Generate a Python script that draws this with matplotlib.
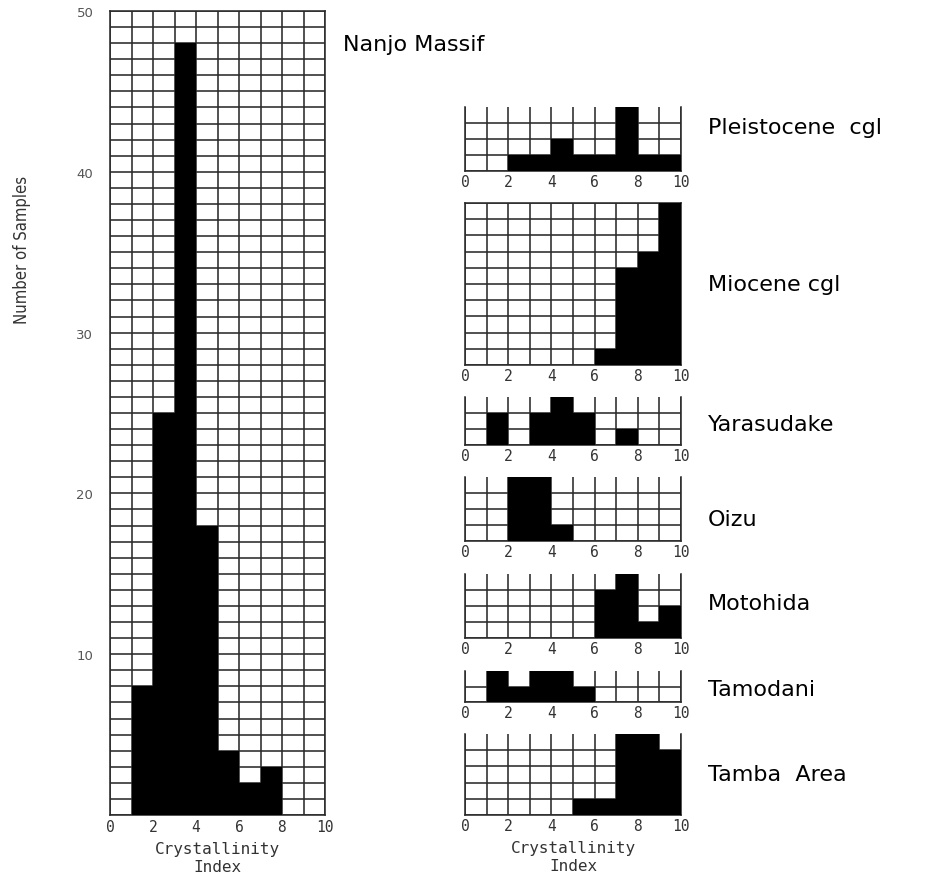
import matplotlib
matplotlib.use("Agg")
import matplotlib.pyplot as plt

# ---- data ----
bins = list(range(10))
main_counts = [0, 8, 25, 48, 18, 4, 2, 3, 0, 0]
main_title = "Nanjo Massif"

panel_names = ["Pleistocene  cgl", "Miocene cgl", "Yarasudake", "Oizu",
               "Motohida", "Tamodani", "Tamba  Area"]
pleistocene = [0, 0, 1, 1, 2, 1, 1, 4, 1, 1]
miocene = [0, 0, 0, 0, 0, 0, 1, 6, 7, 10]
yarasudake = [0, 2, 0, 2, 3, 2, 0, 1, 0, 0]
oizu = [0, 0, 4, 4, 1, 0, 0, 0, 0, 0]
motohida = [0, 0, 0, 0, 0, 0, 3, 4, 1, 2]
tamodani = [0, 2, 1, 2, 2, 1, 0, 0, 0, 0]
tamba = [0, 0, 0, 0, 0, 1, 1, 5, 5, 4]
panel_ymax = [4, 10, 3, 4, 4, 2, 5]

x_ticks = [0, 2, 4, 6, 8, 10]
y_ticks_main = [10, 20, 30, 40, 50]
x_label = "Crystallinity\nIndex"
y_label = "Number of Samples"

# ---- layout (pixels) ----
W, H = 943, 878
fig = plt.figure(figsize=(W / 100, H / 100), dpi=100)
fig.patch.set_facecolor("white")

GRID = "#2a2a2a"
LW = 1.15
DIGIT_FONT = ["DejaVu Sans Mono"]


def add_px_axes(x0, x1, y0, y1):
    return fig.add_axes([x0 / W, 1 - y1 / H, (x1 - x0) / W, (y1 - y0) / H])


def style_grid(ax, ymax, top_line):
    ax.set_xlim(0, 10)
    ax.set_ylim(0, ymax)
    ax.set_xticks(range(0, 11), minor=True)
    ax.set_xticks(x_ticks)
    ys = list(range(0, ymax + 1)) if top_line else list(range(0, ymax))
    ax.set_yticks(ys, minor=True)
    ax.grid(True, which="both", color=GRID, linewidth=LW)
    ax.set_axisbelow(True)
    for s in ["left", "right", "bottom", "top"]:
        ax.spines[s].set_color(GRID)
        ax.spines[s].set_linewidth(LW)
    ax.spines["top"].set_visible(top_line)
    ax.tick_params(which="both", length=0)


# ---- main panel ----
axm = add_px_axes(110, 325, 12, 816)
axm.bar(bins, main_counts, width=1, align="edge", color="black", zorder=3)
style_grid(axm, 50, True)
axm.set_yticks(y_ticks_main)
axm.set_yticklabels([str(v) for v in y_ticks_main], family=["DejaVu Sans"],
                    fontsize=9.5, color="#555")
axm.set_xticklabels([str(v) for v in x_ticks], family=DIGIT_FONT,
                    fontsize=10.5, color="#333")
axm.tick_params(axis="y", pad=12)
axm.tick_params(axis="x", pad=3)
axm.set_xlabel(x_label, family=DIGIT_FONT, fontsize=11.5, color="#333",
               labelpad=5, linespacing=1.25)
fig.text(343 / W, 1 - 45 / H, main_title, fontsize=16, color="black",
         va="center", ha="left", family=["DejaVu Sans"])
fig.text(22 / W, 1 - 250 / H, y_label, rotation=90, ha="center", va="center",
         fontsize=12, color="#333",
         family=["Liberation Sans Narrow", "DejaVu Sans"], fontstretch="condensed")

# ---- small panels ----
panel_values = [pleistocene, miocene, yarasudake, oizu, motohida, tamodani, tamba]
panel_px = [(108, 172), (204, 366), (398, 446), (478, 542),
            (575, 639), (672, 703), (735, 816)]
label_y = [128, 285, 425, 520, 604, 690, 775]

for i, (name, vals, ymax, (t, b), ly) in enumerate(
        zip(panel_names, panel_values, panel_ymax, panel_px, label_y)):
    ax = add_px_axes(465, 681, t, b)
    ax.bar(bins, vals, width=1, align="edge", color="black", zorder=3)
    style_grid(ax, ymax, top_line=(name.startswith("Miocene")))
    ax.set_yticks([])
    ax.set_xticklabels([str(v) for v in x_ticks], family=DIGIT_FONT,
                       fontsize=10.5, color="#333")
    ax.tick_params(axis="x", pad=2)
    fig.text(708 / W, 1 - ly / H, name, ha="left", va="center",
             fontsize=16, color="black", family=["DejaVu Sans"])
    if i == len(panel_names) - 1:
        ax.set_xlabel(x_label, family=DIGIT_FONT, fontsize=11.5, color="#333",
                      labelpad=5, linespacing=1.25)

fig.savefig("out.png", dpi=100, facecolor="white")
